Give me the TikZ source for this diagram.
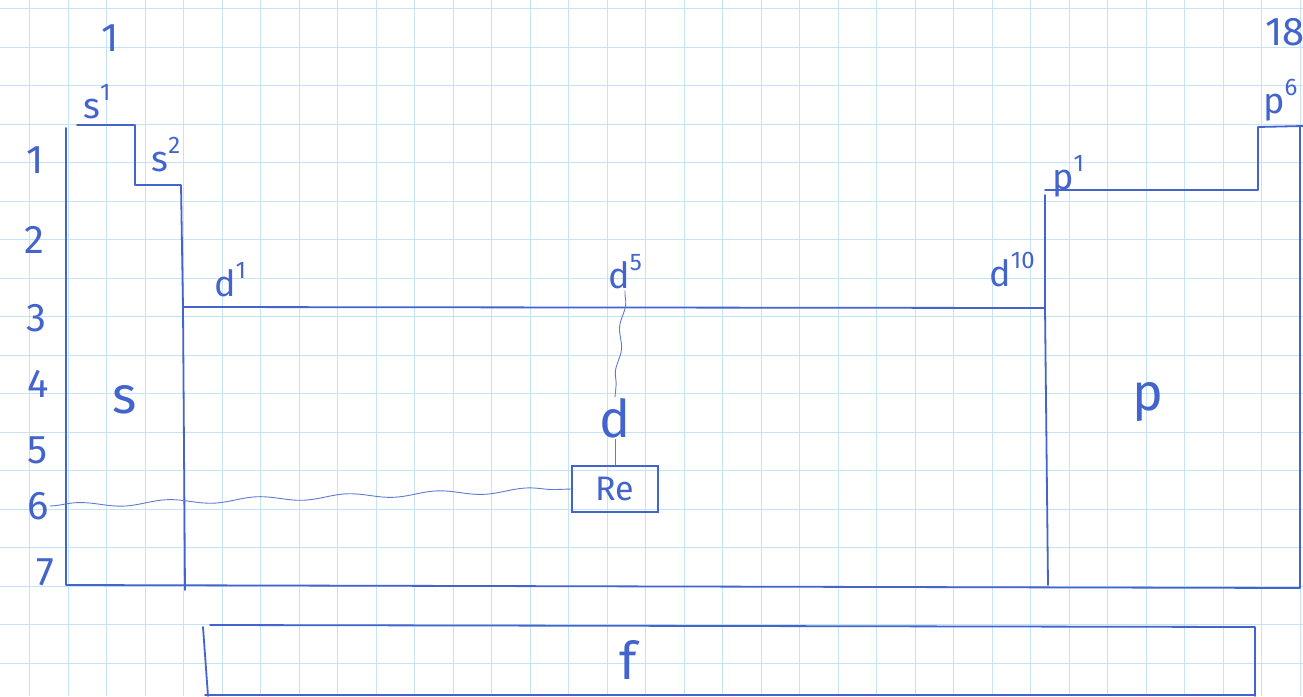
\documentclass[tikz,border=0pt]{standalone}
\usepackage{fontspec}
\setmainfont{Fira Sans}
\usetikzlibrary{positioning,decorations.pathmorphing}
\definecolor{pen}{RGB}{66,100,204}
\definecolor{gridblue}{RGB}{196,228,246}
\newcommand{\blocklbl}[2]{#1\raisebox{0.5em}{\fontsize{24}{24}\selectfont #2}}

\begin{document}
\begin{tikzpicture}[x=1pt, y=-1pt,
    pen/.style={draw=pen, line width=1.8pt, line join=round, line cap=round},
    thinpen/.style={draw=pen!85, line width=0.9pt},
    wavy/.style={thinpen, decorate, decoration={snake, amplitude=2.5pt, segment length=90pt}},
    lbl/.style={text=pen, font=\fontsize{36}{36}\selectfont, inner sep=1pt},
    rownum/.style={text=pen, font=\fontsize{40}{40}\selectfont, inner sep=1pt},
    biglbl/.style={text=pen, font=\fontsize{52}{52}\selectfont, inner sep=1pt}]
    \useasboundingbox (0,0) rectangle (1303,696);
    \clip (0,0) rectangle (1303,696);
    \fill[white] (0,0) rectangle (1303,696);

    % grid paper
    \foreach \i in {0,...,34}
      \draw[gridblue, line width=0.8pt] (29.5+38.5*\i,0) -- (29.5+38.5*\i,696);
    \foreach \j in {0,...,18}
      \draw[gridblue, line width=0.8pt] (0,8.5+38.5*\j) -- (1303,8.5+38.5*\j);

    % block outlines
    \draw[pen] (77,125) -- (135,125) -- (135,185) -- (181,185) -- (183,307)
      -- (1045,308) -- (1045,195);
    \draw[pen] (1045,190) -- (1258,190) -- (1258,127) -- (1303,126);
    \draw[pen] (66,128) -- (66,585) -- (1300,588) -- (1300,127);
    \draw[pen] (183,307) -- (185,590);
    \draw[pen] (1045,308) -- (1048,585);
    \draw[pen] (203,627) -- (208,696);
    \draw[pen] (210,625) -- (1255,627) -- (1255,696);
    \draw[pen] (205,695) -- (1255,695);

    % group numbers
    \node[rownum] (g1) at (110,38) {1};
    \node[rownum, anchor=west] (g18) at (1264,32) {18};

    % period numbers
    \node[rownum] (r1) at (35,160) {1};
    \node[rownum] (r2) at (34,240) {2};
    \node[rownum] (r3) at (36,318) {3};
    \node[rownum] (r4) at (38,384) {4};
    \node[rownum] (r5) at (38,450) {5};
    \node[rownum] (r6) at (38,506) {6};
    \node[rownum] (r7) at (45,572) {7};

    % block edge labels
    \node[lbl] (s1) at (97,102) {\blocklbl{s}{1}};
    \node[lbl] (s2) at (166,155) {\blocklbl{s}{2}};
    \node[lbl] (d1) at (230,280) {\blocklbl{d}{1}};
    \node[lbl] (d5) at (625,272) {\blocklbl{d}{5}};
    \node[lbl] (d10) at (1012,270) {\blocklbl{d}{10}};
    \node[lbl] (p1) at (1068,176) {\blocklbl{p}{1}};
    \node[lbl, anchor=west] (p6) at (1262,100) {\blocklbl{p}{6}};

    % block names
    \node[biglbl] (sblk) at (125,400) {s};
    \node[biglbl] (pblk) at (1148,402) {p};
    \node[biglbl] (dblk) at (615,418) {d};
    \node[biglbl] (fblk) at (628,660) {f};

    % rhenium
    \node[lbl, draw=pen, line width=1.6pt, minimum width=86pt, minimum height=46pt,
      font=\fontsize{34}{34}\selectfont] (re) at (615,489) {Re};
    \draw[wavy, decoration={segment length=45pt, amplitude=2pt}] (d5.south) -- (dblk.north);
    \draw[thinpen] (dblk.south -| re.north) -- (re.north);
    \draw[wavy] (r6.east) -- (re.west);
\end{tikzpicture}
\end{document}
